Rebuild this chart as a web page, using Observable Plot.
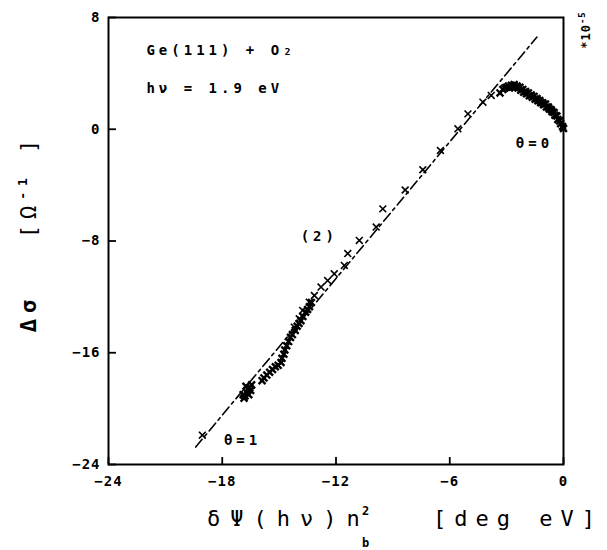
<!DOCTYPE html>
<html>
<head>
<meta charset="utf-8">
<script src="https://cdn.jsdelivr.net/npm/d3@7"></script>
<script src="https://cdn.jsdelivr.net/npm/@observablehq/plot@0.6"></script>
<style>
  body { margin: 0; background: #fff; }
  #chart { width: 607px; height: 550px; }
  #chart svg text { letter-spacing: 1px; }
  #chart g[aria-label="text"] text { letter-spacing: 4px; }
</style>
</head>
<body>
<div id="chart"></div>
<script>
// Axis ticks
const xTicks = [-24, -18, -12, -6, 0];
const yTicks = [-24, -16, -8, 0, 8];

// Fitted straight line (2): two end points (deg eV, 10^-5 Ω^-1)
const fitX = [-19.4, -1.4];
const fitY = [-22.75, 6.6];

// Individually resolved crosses
const crossX = [-19.05, -14.2, -13.94, -13.76, -13.41, -13.14, -12.79, -12.44, -12.09, -11.56, -11.38, -10.77, -9.88, -9.53, -8.35, -7.42, -6.49, -5.57, -5.04, -4.25, -3.81];
const crossY = [-21.9, -14.17, -13.57, -12.97, -12.38, -11.9, -11.3, -10.83, -10.35, -9.75, -8.9, -7.96, -7.0, -5.7, -4.35, -2.9, -1.52, 0.03, 1.1, 1.94, 2.42];

// Dense low-coverage streak and θ=1 cluster
const lowX = [-13.3, -13.4, -13.5, -13.6, -13.75, -13.85, -13.95, -14.05, -14.15, -14.3, -14.4, -14.5, -14.6, -14.7, -14.75, -14.85, -14.9, -15.05, -15.2, -15.35, -15.5, -15.65, -15.8, -15.9,
              -16.45, -16.55, -16.65, -16.5, -16.7, -16.6, -16.8, -16.75, -16.85, -16.9];
const lowY = [-12.4, -12.7, -12.9, -13.1, -13.4, -13.7, -13.9, -14.1, -14.4, -14.7, -14.9, -15.2, -15.5, -15.8, -16.1, -16.4, -16.7, -16.9, -17.0, -17.2, -17.4, -17.6, -17.8, -18.0,
              -18.3, -18.5, -18.6, -18.7, -18.85, -19.0, -19.1, -18.4, -19.25, -19.0];

// Dense high-coverage arc towards θ=0
const peakX = [-3.35, -3.2, -3.1, -3.0, -2.9, -2.85, -2.75, -2.7, -2.6, -2.55, -2.45, -2.4, -2.3, -2.25, -2.15, -2.1, -2.0, -1.95, -1.85, -1.8, -1.7, -1.65, -1.55, -1.5, -1.4, -1.35, -1.25, -1.2, -1.1, -1.05, -0.95, -0.9, -0.8, -0.75, -0.65, -0.6, -0.5, -0.45, -0.35, -0.3, -0.2, -0.15, -0.05, 0];
const peakY = [2.6, 2.85, 2.95, 3.0, 3.1, 2.95, 3.15, 3.05, 3.2, 3.0, 3.1, 2.95, 3.0, 2.8, 2.85, 2.65, 2.7, 2.55, 2.6, 2.4, 2.45, 2.3, 2.35, 2.15, 2.2, 2.05, 2.05, 1.9, 1.9, 1.75, 1.8, 1.6, 1.6, 1.45, 1.4, 1.25, 1.2, 1.0, 0.95, 0.7, 0.6, 0.4, 0.2, 0.05];

// Annotations
const noteText = ["Ge(111) + O₂", "hν = 1.9 eV", "(2)", "θ=0", "θ=1"];
const noteX = [-22.0, -22.0, -12.88, -1.53, -16.93];
const noteY = [5.64, 2.92, -7.68, -1.02, -22.28];
const noteAnchor = ["start", "start", "middle", "middle", "middle"];

const fit = fitX.map((x, i) => ({x, y: fitY[i]}));
const crosses = crossX.map((x, i) => ({x, y: crossY[i]}));
const dense = lowX.map((x, i) => ({x, y: lowY[i]})).concat(peakX.map((x, i) => ({x, y: peakY[i]})));
const notes = noteText.map((t, i) => ({t, x: noteX[i], y: noteY[i], a: noteAnchor[i]}));

const W = 607, H = 550, mL = 108, mR = 44, mT = 17, mB = 86;
const plotW = W - mL - mR, plotH = H - mT - mB;

const plot = Plot.plot({
  width: W,
  height: H,
  marginLeft: mL,
  marginRight: mR,
  marginTop: mT,
  marginBottom: mB,
  style: {fontFamily: "'DejaVu Sans Mono', monospace", fontSize: "14px", fontWeight: "bold", color: "#000", background: "#fff"},
  x: {domain: [-24, 0]},
  y: {domain: [-24, 8]},
  marks: [
    Plot.axisX({ticks: xTicks, tickSize: 0, tickPadding: 12, label: null, tickFormat: d => d < 0 ? "−" + (-d) : String(d)}),
    Plot.axisY({ticks: yTicks, tickSize: 0, tickPadding: 8, label: null, tickFormat: d => d < 0 ? "−" + (-d) : String(d)}),
    // inward tick marks
    Plot.tickX(xTicks, {x: d => d, insetTop: plotH - 7, stroke: "#000", strokeWidth: 1.8}),
    Plot.tickY(yTicks, {y: d => d, insetRight: plotW - 8, stroke: "#000", strokeWidth: 1.8}),
    Plot.line(fit, {x: "x", y: "y", stroke: "#000", strokeWidth: 1.6, strokeDasharray: "10,4,3,4"}),
    Plot.dot(crosses, {x: "x", y: "y", symbol: "times", r: 3.2, stroke: "#000", strokeWidth: 1.6}),
    Plot.dot(dense, {x: "x", y: "y", symbol: "times", r: 3.2, stroke: "#000", strokeWidth: 2.4}),
    Plot.text(notes.filter(d => d.a === "start"), {x: "x", y: "y", text: "t", textAnchor: "start", fontSize: 14, fontWeight: "bold", fill: "#000"}),
    Plot.text(notes.filter(d => d.a === "middle"), {x: "x", y: "y", text: "t", textAnchor: "middle", fontSize: 14, fontWeight: "bold", fill: "#000"}),
    Plot.frame({stroke: "#000", strokeWidth: 2})
  ]
});

const svg = d3.select(plot);
const FF = "'DejaVu Sans Mono', monospace";

// x-axis title
const xt = svg.append("text").attr("x", 207).attr("y", 526).attr("text-anchor", "start").attr("font-size", 22)
  .attr("font-weight", "normal").attr("font-family", FF).style("letter-spacing", "10px");
xt.append("tspan").text("δΨ(hν)");
xt.append("tspan").style("letter-spacing", "0px").text("n");
svg.append("text").attr("x", 362).attr("y", 547).attr("text-anchor", "start").attr("font-size", 12)
  .attr("font-weight", "bold").attr("font-family", FF).style("letter-spacing", "0px").text("b");
svg.append("text").attr("x", 362).attr("y", 515).attr("text-anchor", "start").attr("font-size", 12)
  .attr("font-weight", "bold").attr("font-family", FF).style("letter-spacing", "0px").text("2");
svg.append("text").attr("x", 433).attr("y", 526).attr("text-anchor", "start").attr("font-size", 22)
  .attr("font-weight", "normal").attr("font-family", FF).style("letter-spacing", "8px").text("[deg eV]");

// y-axis title (rotated)
svg.append("text").attr("transform", "translate(36,313) rotate(-90)").attr("text-anchor", "middle")
  .attr("font-size", 22).attr("font-weight", "bold").style("letter-spacing", "6px").attr("font-family", FF).text("Δσ");
const yu = svg.append("text").attr("transform", "translate(36,186) rotate(-90)").attr("text-anchor", "middle")
  .attr("font-size", 22).attr("font-weight", "normal").style("letter-spacing", "6px").attr("font-family", FF);
yu.append("tspan").text("[Ω");
yu.append("tspan").attr("dy", -9).attr("font-size", 13).attr("font-weight", "bold").text("-1");
yu.append("tspan").attr("dy", 9).text(" ]");

// exponent multiplier
const ex = svg.append("text").attr("transform", "translate(590,30) rotate(-90)").attr("text-anchor", "middle")
  .attr("font-size", 12).attr("font-weight", "bold").attr("font-family", FF).style("letter-spacing", "1px");
ex.append("tspan").text("*10");
ex.append("tspan").attr("dy", -5).attr("font-size", 9).text("-5");

document.getElementById("chart").appendChild(plot);
</script>
</body>
</html>
